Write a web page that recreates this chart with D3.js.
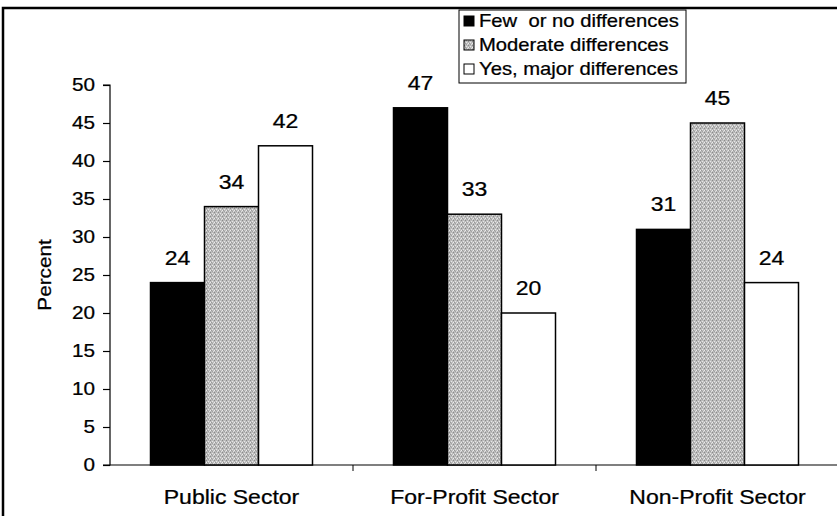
<!DOCTYPE html>
<html>
<head>
<meta charset="utf-8">
<script src="https://cdn.jsdelivr.net/npm/d3@7"></script>
<style>
  body { margin: 0; background: #fff; }
  svg { display: block; font-family: "Liberation Sans", Arial, sans-serif; }
  text { fill: #000; stroke: #000; stroke-width: 0.25px; }
</style>
</head>
<body>
<script>
var categories = ["Public Sector", "For-Profit Sector", "Non-Profit Sector"];
var seriesNames = ["Few  or no differences", "Moderate differences", "Yes, major differences"];
var fewValues = [24, 47, 31];
var moderateValues = [34, 33, 45];
var majorValues = [42, 20, 24];
var yTicks = [0, 5, 10, 15, 20, 25, 30, 35, 40, 45, 50];

var width = 837;
var height = 516;
var margin = {top: 85, bottom: 51, left: 110, right: -2};
var sx = 1.15; // scanned text is a bit wide

var svg = d3.select("body").append("svg")
    .attr("width", width)
    .attr("height", height);

// stipple pattern for the grey bars
var defs = svg.append("defs");
var pat = defs.append("pattern")
    .attr("id", "stipple")
    .attr("patternUnits", "userSpaceOnUse")
    .attr("width", 4)
    .attr("height", 4);
pat.append("rect").attr("width", 4).attr("height", 4).attr("fill", "#bcbcbc");
var dots = [[0, 0, "#8a8a8a"], [2, 1, "#e6e6e6"], [1, 2, "#999"], [3, 3, "#dedede"], [2, 3, "#a2a2a2"], [0, 2, "#ececec"]];
dots.forEach(function(p){
    pat.append("rect").attr("x", p[0]).attr("y", p[1]).attr("width", 1).attr("height", 1).attr("fill", p[2]);
});

var fills = ["#000", "url(#stipple)", "#fff"];

// outer frame
svg.append("path")
    .attr("d", "M3," + height + "V8H" + width)
    .attr("fill", "none")
    .attr("stroke", "#000")
    .attr("stroke-width", 2.5);

var data = categories.map(function(c, i){
    return {cat: c, values: [fewValues[i], moderateValues[i], majorValues[i]]};
});

var xScale = d3.scaleBand()
    .domain(categories)
    .range([margin.left, width - margin.right])
    .padding(0);

var bw = xScale.bandwidth() / 4.5;
var xSub = d3.scaleBand()
    .domain(seriesNames)
    .range([bw * 0.75, xScale.bandwidth() - bw * 0.75])
    .padding(0);

var yScale = d3.scaleLinear()
    .domain([0, 50])
    .range([height - margin.bottom, margin.top]);

function wideText(sel, x, y){
    return sel.attr("transform", function(d, i){
        return "translate(" + x(d, i) + "," + y(d, i) + ") scale(" + sx + ",1)";
    });
}

// y axis
var yAxis = svg.append("g")
    .attr("transform", "translate(" + margin.left + ",0)")
    .call(d3.axisLeft(yScale).tickValues(yTicks).tickSize(7));
yAxis.selectAll("text")
    .attr("font-size", 18)
    .attr("font-family", "Liberation Sans, Arial, sans-serif")
    .attr("x", -15 / sx)
    .attr("transform", "scale(" + sx + ",1)");
yAxis.selectAll("line, path").attr("stroke", "#000").attr("stroke-width", 1.2);
yAxis.select(".domain").attr("d", "M-7," + yScale(50) + "H0V" + yScale(0) + "H-7");

// x axis
var x0 = yScale(0);
svg.append("line")
    .attr("x1", margin.left).attr("x2", width)
    .attr("y1", x0).attr("y2", x0)
    .attr("stroke", "#000")
    .attr("stroke-width", 1.2);
svg.selectAll(".xtick")
    .data(categories.slice(1))
    .enter()
    .append("line")
        .attr("class", "xtick")
        .attr("x1", function(d){ return xScale(d); })
        .attr("x2", function(d){ return xScale(d); })
        .attr("y1", x0).attr("y2", x0 + 6)
        .attr("stroke", "#000");

wideText(svg.selectAll(".catlabel")
    .data(categories)
    .enter()
    .append("text")
        .attr("class", "catlabel")
        .attr("text-anchor", "middle")
        .attr("font-size", 20)
        .text(function(d){ return d; }),
    function(d){ return xScale(d) + xScale.bandwidth() / 2; },
    function(){ return 504; });

// y title
svg.append("text")
    .attr("transform", "translate(51,275) rotate(-90) scale(" + sx + ",1)")
    .attr("text-anchor", "middle")
    .attr("font-size", 18)
    .text("Percent");

// bars
var groups = svg.selectAll(".grp")
    .data(data)
    .enter()
    .append("g")
        .attr("class", "grp")
        .attr("transform", function(d){ return "translate(" + xScale(d.cat) + ",0)"; });

groups.selectAll("rect")
    .data(function(d){ return d.values; })
    .enter()
    .append("rect")
        .attr("x", function(d, i){ return xSub(seriesNames[i]); })
        .attr("y", function(d){ return yScale(d); })
        .attr("width", xSub.bandwidth())
        .attr("height", function(d){ return yScale(0) - yScale(d); })
        .attr("fill", function(d, i){ return fills[i]; })
        .attr("stroke", "#000")
        .attr("stroke-width", 1.5);

wideText(groups.selectAll(".val")
    .data(function(d){ return d.values; })
    .enter()
    .append("text")
        .attr("class", "val")
        .attr("text-anchor", "middle")
        .attr("font-size", 20)
        .text(function(d){ return d; }),
    function(d, i){ return xSub(seriesNames[i]) + xSub.bandwidth() / 2; },
    function(d){ return yScale(d) - 18; });

// legend
var legend = svg.append("g").attr("transform", "translate(459,10)");
legend.append("rect")
    .attr("width", 227).attr("height", 73)
    .attr("fill", "#fff")
    .attr("stroke", "#000")
    .attr("stroke-width", 1);
var items = legend.selectAll(".item")
    .data(seriesNames)
    .enter()
    .append("g")
        .attr("class", "item")
        .attr("transform", function(d, i){ return "translate(5," + (11 + i * 24) + ")"; });
items.append("rect")
    .attr("x", 0).attr("y", -5)
    .attr("width", 10).attr("height", 10)
    .attr("fill", function(d, i){ return fills[i]; })
    .attr("stroke", "#000");
items.append("text")
    .attr("transform", "translate(15,6) scale(" + sx + ",1)")
    .attr("font-size", 17.6)
    .attr("xml:space", "preserve")
    .style("white-space", "pre")
    .text(function(d){ return d; });
</script>
</body>
</html>
